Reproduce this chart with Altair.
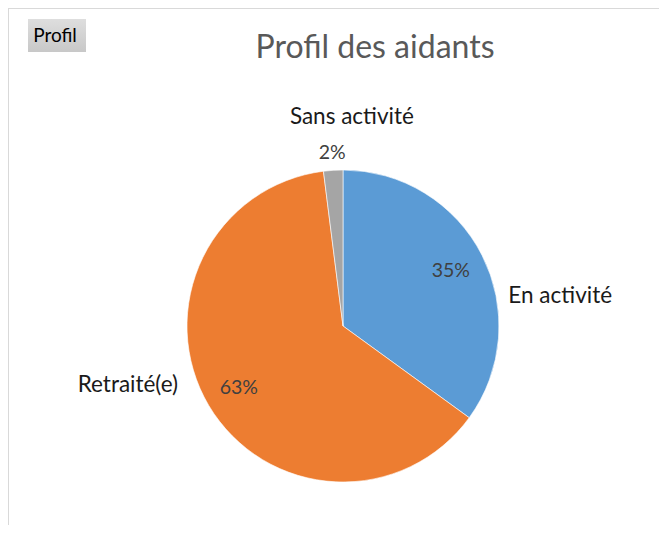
import altair as alt
import pandas as pd

categories = ["En activité", "Retraité(e)", "Sans activité"]
values = [35, 63, 2]
pct_labels = ["35%", "63%", "2%"]
colors = ["#5B9BD5", "#ED7D31", "#A5A5A5"]

df = pd.DataFrame({
    "categorie": categories,
    "valeur": values,
    "pct": pct_labels,
    "rang": list(range(len(categories))),
})

W, H = 651, 517
CX, CY = 335, 318
R = 156
FONT = "Lato"

pie = alt.Chart(df).mark_arc(outerRadius=R, stroke="white", strokeWidth=0.6).encode(
    theta=alt.Theta("valeur:Q", stack=True),
    order=alt.Order("rang:Q"),
    x=alt.value(CX), y=alt.value(CY),
    color=alt.Color("categorie:N", scale=alt.Scale(domain=categories, range=colors), legend=None),
)

# label base: midpoint of each slice computed before filtering
lab_base = alt.Chart(df).transform_window(
    cum="sum(valeur)", sort=[alt.SortField("rang")], frame=[None, 0]
).transform_calculate(
    mid="datum.cum - datum.valeur / 2"
).encode(
    theta=alt.Theta("mid:Q", stack=None),
    x=alt.value(CX), y=alt.value(CY),
)

pct_in = lab_base.transform_filter("datum.valeur >= 5").mark_text(
    font=FONT, fontSize=19.5, color="#404040", align="center", baseline="middle"
).encode(radius=alt.value(121), text="pct:N")

pct_out = lab_base.transform_filter("datum.valeur < 5").mark_text(
    font=FONT, fontSize=19.5, color="#404040", align="center", baseline="middle"
).encode(radius=alt.value(173), text="pct:N")

def cat_label(name, r, dx, dy):
    return lab_base.transform_filter(alt.datum.categorie == name).mark_text(
        font=FONT, fontSize=22.5, color="#1a1a1a", align="center", baseline="middle", dx=dx, dy=dy
    ).encode(radius=alt.value(r), text="categorie:N")

lab1 = cat_label("En activité", 200, 39, 61)
lab2 = cat_label("Retraité(e)", 200, -43, -43)
lab3 = cat_label("Sans activité", 209, 22, 0)

deco = alt.Chart(pd.DataFrame({"t": ["Profil"]}))

btn = deco.mark_rect(
    color={"x1": 0, "y1": 0, "x2": 0, "y2": 1, "gradient": "linear",
           "stops": [{"offset": 0, "color": "#dedede"}, {"offset": 1, "color": "#c8c8c8"}]}
).encode(x=alt.value(20), x2=alt.value(78), y=alt.value(11), y2=alt.value(44))

btn_txt = deco.mark_text(font=FONT, fontSize=19, color="#000000", align="center", baseline="middle").encode(
    x=alt.value(47), y=alt.value(28), text="t:N")

title = alt.Chart(pd.DataFrame({"t": ["Profil des aidants"]})).mark_text(
    font=FONT, fontSize=32, color="#595959", align="center", baseline="middle"
).encode(x=alt.value(367), y=alt.value(40), text="t:N")

top_rule = deco.mark_rule(color="#d9d9d9", strokeWidth=2).encode(
    x=alt.value(0), x2=alt.value(W), y=alt.value(0))
left_rule = deco.mark_rule(color="#d9d9d9", strokeWidth=2).encode(
    x=alt.value(0), y=alt.value(0), y2=alt.value(H))

chart = alt.layer(
    top_rule, left_rule, pie, pct_in, pct_out, lab1, lab2, lab3, btn, btn_txt, title
).properties(
    width=W, height=H, padding=0, autosize=alt.AutoSizeParams(type="none")
).configure_view(stroke=None)

chart.save("out.html", embed_options={"renderer": "svg", "actions": False})
